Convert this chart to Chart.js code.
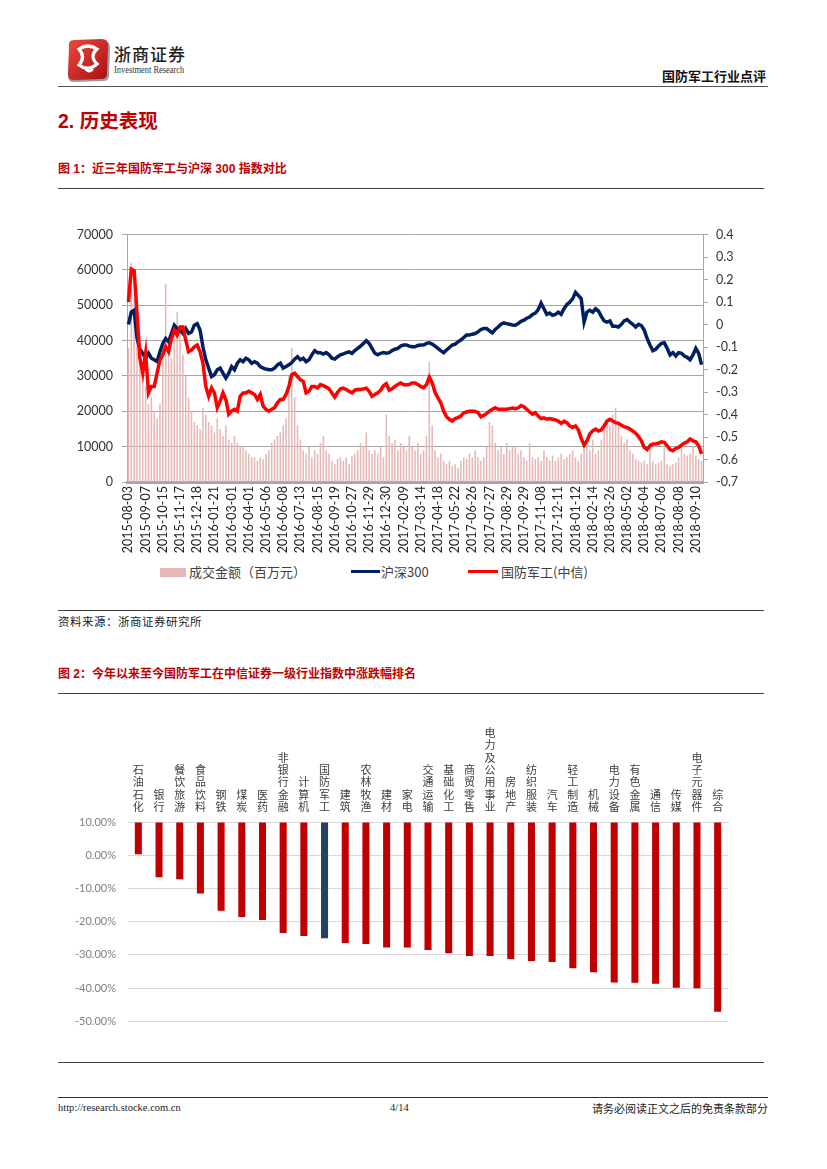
<!DOCTYPE html>
<html><head><meta charset="utf-8">
<script src="https://cdn.jsdelivr.net/npm/chart.js@4.4.0/dist/chart.umd.min.js"></script>
<style>
html,body{margin:0;padding:0;background:#fff;}
#page{position:relative;width:827px;height:1169px;overflow:hidden;font-family:"Noto Sans CJK SC",sans-serif;}
.t{position:absolute;white-space:nowrap;}
.hl{position:absolute;height:0;border-top:1px solid #404040;}
canvas{position:absolute;}
</style></head><body><div id="page">

<svg class="t" style="left:63px;top:38px" width="50" height="48" viewBox="0 0 50 48">
 <defs><linearGradient id="lg" x1="0" y1="0" x2="1" y2="1"><stop offset="0" stop-color="#ec4a3f"/><stop offset="1" stop-color="#a90f12"/></linearGradient></defs>
 <path d="M7 10 Q5 4 11 4 L41 3 Q47 3 47 9 L46 37 Q46 43 40 43 L11 44 Q5 44 5 38 Z" fill="#9a9a9a"/>
 <path d="M6 8 Q5 2 11 2 L39 1 Q45 1 45 7 L44 35 Q44 41 38 41 L11 42 Q5 42 5 36 Z" fill="url(#lg)"/>
 <path d="M16 11 Q25 5 34 11 Q26 18 34 26 Q25 34 16 27 Q23 19 16 11 Z" fill="none" stroke="#fff" stroke-width="3.2"/>
 <path d="M22 30 Q25 36 30 31" fill="none" stroke="#fff" stroke-width="2.5"/>
</svg>
<div class="t" style="left:114px;top:43px;font-size:17px;line-height:22px;color:#222;letter-spacing:1px;font-weight:500">浙商证券</div>
<div class="t" style="left:114px;top:64px;font-size:10.5px;line-height:12px;color:#333;font-family:'Liberation Serif',serif;transform:scaleX(0.8);transform-origin:left top">Investment Research</div>
<div class="t" style="left:560px;width:206px;text-align:right;top:66px;font-size:13px;line-height:20px;font-weight:bold;color:#111">国防军工行业点评</div>
<div class="hl" style="left:58px;width:710px;top:86px;border-top:1.5px solid #555"></div>

<div class="t" style="left:58px;top:108px;font-size:19.5px;line-height:26px;font-weight:bold;color:#C00000;font-family:'Liberation Sans','Noto Sans CJK SC',sans-serif">2. 历史表现</div>
<div class="t" style="left:58px;top:159px;font-size:12px;line-height:20px;font-weight:bold;color:#C00000;font-family:'Liberation Sans','Noto Sans CJK SC',sans-serif">图 1：近三年国防军工与沪深 300 指数对比</div>
<div class="hl" style="left:58px;width:706px;top:188px"></div>

<canvas id="c1" width="700" height="344" style="left:60px;top:218px"></canvas>

<div class="t" style="left:160px;top:568px;width:26px;height:9px;background:#E6B9B8"></div>
<div class="t" style="left:189px;top:562px;font-size:13px;line-height:20px;color:#404040">成交金额（百万元）</div>
<div class="t" style="left:351px;top:570px;width:29px;height:3px;background:#002060"></div>
<div class="t" style="left:381px;top:562px;font-size:13px;line-height:20px;color:#404040">沪深300</div>
<div class="t" style="left:468px;top:570px;width:30px;height:3px;background:#FF0000"></div>
<div class="t" style="left:501px;top:562px;font-size:13px;line-height:20px;color:#404040">国防军工(中信)</div>

<div class="hl" style="left:58px;width:706px;top:610px"></div>
<div class="t" style="left:58px;top:612px;font-size:11.5px;line-height:18px;color:#222;letter-spacing:0.5px">资料来源：浙商证券研究所</div>

<div class="t" style="left:58px;top:664px;font-size:12px;line-height:20px;font-weight:bold;color:#C00000;font-family:'Liberation Sans','Noto Sans CJK SC',sans-serif">图 2：今年以来至今国防军工在中信证券一级行业指数中涨跌幅排名</div>
<div class="hl" style="left:58px;width:706px;top:693px"></div>

<canvas id="c2" width="700" height="330" style="left:60px;top:710px"></canvas>

<div class="hl" style="left:58px;width:706px;top:1062px"></div>
<div class="hl" style="left:58px;width:710px;top:1097px;border-top:1px solid #A00000"></div>
<div class="t" style="left:58px;top:1101px;font-size:10.5px;line-height:14px;color:#222;font-family:'Liberation Serif',serif">http://research.stocke.com.cn</div>
<div class="t" style="left:390px;top:1101px;font-size:10.5px;line-height:14px;color:#222;font-family:'Liberation Serif',serif">4/14</div>
<div class="t" style="left:560px;width:208px;text-align:right;top:1100px;font-size:11px;line-height:16px;color:#222">请务必阅读正文之后的免责条款部分</div>

</div>
<script>
const tickDates = ['2015-08-03','2015-09-07','2015-10-15','2015-11-17','2015-12-18','2016-01-21','2016-03-01','2016-04-01','2016-05-06','2016-06-08','2016-07-13','2016-08-15','2016-09-19','2016-10-27','2016-11-29','2016-12-30','2017-02-09','2017-03-14','2017-04-18','2017-05-22','2017-06-26','2017-07-27','2017-08-29','2017-09-29','2017-11-08','2017-12-11','2018-01-12','2018-02-14','2018-03-26','2018-05-02','2018-06-04','2018-07-06','2018-08-08','2018-09-10'];
const pointsPerTick = 6;

const volume = [
38000,62000,52000,44000,36000,30000,27000,22000,24000,20000,
18000,22000,38000,56000,40000,35000,45000,48000,42000,36000,
30000,24000,20000,17000,16000,15000,21000,19000,17000,16000,
14000,18000,15000,13000,16000,12000,11000,13000,11000,10000,
10000,9000,8000,7000,7000,6000,7000,6500,8000,9000,
11000,12000,13000,14000,16000,18000,30000,38000,24000,16000,
12000,9000,8000,10000,7000,9000,8000,
11000,13000,9000,8000,6000,5000,6500,7000,6000,7000,
5000,7500,8000,9000,11000,10000,14000,9000,8000,9000,
8000,10000,7000,19000,13000,11000,12000,9000,11000,10000,
9000,13000,10000,9000,11000,8000,9000,13000,34000,16000,
9000,7000,8000,6000,5000,6000,4500,5000,4000,6000,
7000,6500,8000,7000,9000,7000,6000,7000,10000,17000,
16000,11000,9000,10000,8000,11000,9000,10000,
10000,8000,9000,7000,6000,11000,7000,6500,7000,6000,
9000,7000,6000,7500,6000,7000,8000,6500,7000,8000,
9000,7000,6000,8000,10000,11000,9000,12000,8000,9000,
12000,15000,17000,16000,19000,21000,17000,13000,11000,12000,
9000,8000,6500,6000,5500,6000,5000,11000,6000,5000,
5500,6000,10000,5000,4500,5000,5500,7000,10000,8000,
7500,8000,10000,7500,6500,6000];

const hs300 = [
0.000,0.055,0.063,-0.060,-0.110,-0.128,-0.150,-0.128,-0.150,-0.157,
-0.165,-0.121,-0.084,-0.062,-0.077,-0.040,-0.003,-0.018,-0.025,-0.040,
-0.018,-0.040,-0.033,-0.003,0.004,-0.025,-0.099,-0.157,-0.194,-0.231,
-0.223,-0.201,-0.194,-0.216,-0.238,-0.216,-0.187,-0.201,-0.172,-0.157,
-0.165,-0.150,-0.157,-0.172,-0.165,-0.172,-0.187,-0.194,-0.198,-0.201,
-0.201,-0.194,-0.179,-0.172,-0.194,-0.187,-0.179,-0.169,-0.154,-0.143,
-0.157,-0.150,-0.165,-0.157,-0.135,-0.116,-0.125,
-0.125,-0.131,-0.125,-0.135,-0.150,-0.154,-0.143,-0.135,-0.131,-0.125,
-0.122,-0.128,-0.116,-0.106,-0.096,-0.084,-0.072,-0.084,-0.106,-0.128,
-0.135,-0.128,-0.125,-0.128,-0.125,-0.116,-0.110,-0.106,-0.096,-0.091,
-0.091,-0.096,-0.099,-0.099,-0.093,-0.091,-0.091,-0.084,-0.081,-0.087,
-0.096,-0.106,-0.116,-0.125,-0.113,-0.102,-0.091,-0.087,-0.077,-0.069,
-0.058,-0.047,-0.047,-0.043,-0.040,-0.033,-0.022,-0.018,-0.018,-0.028,
-0.037,-0.022,-0.011,0.001,0.007,0.004,0.001,-0.002,
-0.003,0.004,0.014,0.019,0.028,0.033,0.045,0.051,0.066,0.095,
0.070,0.045,0.051,0.041,0.045,0.055,0.045,0.070,0.089,0.099,
0.114,0.143,0.129,0.114,0.011,0.055,0.063,0.055,0.070,0.060,
0.036,0.016,0.011,0.016,-0.008,-0.008,-0.011,0.001,0.016,0.022,
0.011,0.001,-0.011,0.001,-0.005,-0.025,-0.062,-0.091,-0.116,-0.110,
-0.096,-0.084,-0.081,-0.106,-0.135,-0.125,-0.140,-0.125,-0.128,-0.140,
-0.146,-0.157,-0.135,-0.106,-0.128,-0.179];

const defense = [
0.100,0.246,0.239,0.050,-0.150,-0.216,-0.128,-0.304,-0.275,-0.275,
-0.216,-0.157,-0.135,-0.099,-0.121,-0.062,-0.025,-0.047,-0.011,-0.011,
-0.069,-0.121,-0.113,-0.099,-0.091,-0.121,-0.172,-0.275,-0.319,-0.282,
-0.304,-0.370,-0.341,-0.304,-0.333,-0.399,-0.385,-0.377,-0.385,-0.319,
-0.304,-0.304,-0.297,-0.304,-0.311,-0.333,-0.311,-0.363,-0.377,-0.385,
-0.377,-0.370,-0.348,-0.333,-0.333,-0.311,-0.275,-0.223,-0.216,-0.231,
-0.245,-0.253,-0.304,-0.297,-0.275,-0.275,-0.282,
-0.267,-0.272,-0.278,-0.286,-0.304,-0.322,-0.301,-0.286,-0.283,-0.289,
-0.297,-0.304,-0.292,-0.289,-0.289,-0.286,-0.283,-0.297,-0.319,-0.311,
-0.304,-0.292,-0.272,-0.263,-0.292,-0.286,-0.275,-0.267,-0.260,-0.267,
-0.269,-0.266,-0.260,-0.260,-0.267,-0.275,-0.281,-0.267,-0.234,-0.260,
-0.301,-0.326,-0.348,-0.385,-0.410,-0.421,-0.429,-0.418,-0.414,-0.407,
-0.392,-0.389,-0.386,-0.385,-0.386,-0.392,-0.410,-0.404,-0.395,-0.385,
-0.377,-0.370,-0.377,-0.377,-0.377,-0.377,-0.374,-0.371,
-0.374,-0.371,-0.360,-0.366,-0.377,-0.389,-0.399,-0.392,-0.407,-0.418,
-0.415,-0.421,-0.418,-0.421,-0.424,-0.429,-0.439,-0.430,-0.436,-0.451,
-0.458,-0.451,-0.468,-0.506,-0.536,-0.517,-0.487,-0.473,-0.465,-0.473,
-0.468,-0.451,-0.429,-0.421,-0.429,-0.436,-0.439,-0.448,-0.454,-0.458,
-0.465,-0.473,-0.483,-0.498,-0.517,-0.546,-0.556,-0.539,-0.531,-0.531,
-0.527,-0.521,-0.524,-0.539,-0.556,-0.561,-0.550,-0.546,-0.536,-0.527,
-0.521,-0.509,-0.517,-0.521,-0.539,-0.575];

const industries = ['石油石化','银行','餐饮旅游','食品饮料','钢铁','煤炭','医药','非银行金融','计算机','国防军工','建筑','农林牧渔','建材','家电','交通运输','基础化工','商贸零售','电力及公用事业','房地产','纺织服装','汽车','轻工制造','机械','电力设备','有色金属','通信','传媒','电子元器件','综合'];
const ytdChange = [0.3,-6.6,-7.2,-11.5,-16.7,-18.6,-19.5,-23.4,-24.3,-25.0,-26.4,-26.7,-27.8,-27.8,-28.5,-29.5,-30.3,-30.3,-31.2,-31.8,-32.1,-34.0,-35.2,-38.3,-38.4,-38.7,-39.9,-40.0,-47.1];
const highlight = '国防军工';

const numFont = 'Lato, "Noto Sans CJK SC", sans-serif';
const dateLabels = volume.map((_, i) => i % pointsPerTick === 0 ? (tickDates[i / pointsPerTick] || '') : '');

new Chart(document.getElementById('c1'), {
  type: 'bar',
  data: {
    labels: dateLabels,
    datasets: [
      {type:'bar', label:'成交金额（百万元）', data: volume, yAxisID:'yL', backgroundColor:'#E6B9B8', borderWidth:0, barPercentage:0.55, categoryPercentage:1, order:3},
      {type:'line', label:'沪深300', data: hs300, yAxisID:'yR', borderColor:'#002060', borderWidth:3.5, pointRadius:0, tension:0, fill:false, order:2},
      {type:'line', label:'国防军工(中信)', data: defense, yAxisID:'yR', borderColor:'#FF0000', borderWidth:3.5, pointRadius:0, tension:0, fill:false, order:1}
    ]
  },
  options: {
    responsive:false, animation:false, devicePixelRatio:1,
    layout:{padding:{top:14,left:0,right:0,bottom:0}},
    plugins:{legend:{display:false}, tooltip:{enabled:false}},
    scales:{
      x:{
        grid:{display:false, drawTicks:false},
        border:{display:true, color:'#A6A6A6', width:3},
        ticks:{autoSkip:false, minRotation:90, maxRotation:90, padding:4, color:'#222', font:{family:numFont, size:12.5},
               callback:(v,i)=>dateLabels[i]},
        afterFit:s=>{s.height=80;}
      },
      yL:{
        position:'left', min:0, max:70000,
        ticks:{stepSize:10000, padding:9, color:'#333', font:{family:numFont, size:12.5},
               callback:v=>String(v)},
        grid:{color:'#A6A6A6', tickLength:5},
        border:{display:true, color:'#A6A6A6'},
        afterFit:s=>{s.width=67;}
      },
      yR:{
        position:'right', min:-0.7, max:0.4,
        ticks:{stepSize:0.1, padding:8, color:'#333', font:{family:numFont, size:12.5},
               callback:v=>String(Math.round(v*10)/10)},
        grid:{drawOnChartArea:false, color:'#A6A6A6', tickLength:5},
        border:{display:true, color:'#A6A6A6'},
        afterFit:s=>{s.width=57;}
      }
    }
  }
});

new Chart(document.getElementById('c2'), {
  type:'bar',
  data:{
    labels: industries.map(s=>s.split('')),
    datasets:[{data: ytdChange, base:10, borderWidth:0, barPercentage:0.34, categoryPercentage:1,
      backgroundColor: industries.map(n => n === highlight ? '#254061' : '#C00000')}]
  },
  options:{
    responsive:false, animation:false, devicePixelRatio:1,
    layout:{padding:{top:0,left:0,right:32,bottom:18}},
    plugins:{legend:{display:false}, tooltip:{enabled:false}},
    scales:{
      x:{
        position:'top',
        grid:{display:false, drawTicks:false},
        border:{display:true, color:'#D9D9D9'},
        ticks:{autoSkip:false, maxRotation:0, minRotation:0, padding:9, color:'#404040',
               font:{family:'"Noto Sans CJK SC", sans-serif', size:11, lineHeight:1.12}},
        afterFit:s=>{s.height=112;}
      },
      y:{
        min:-50, max:10,
        ticks:{stepSize:10, padding:12, color:'#7F7F7F', font:{family:numFont, size:11},
               callback:v=>(Math.abs(v)<1e-9?0:v).toFixed(2)+'%'},
        grid:{color:'#D9D9D9', drawTicks:false},
        border:{display:false},
        afterFit:s=>{s.width=68;}
      }
    }
  }
});
</script>
</body></html>
